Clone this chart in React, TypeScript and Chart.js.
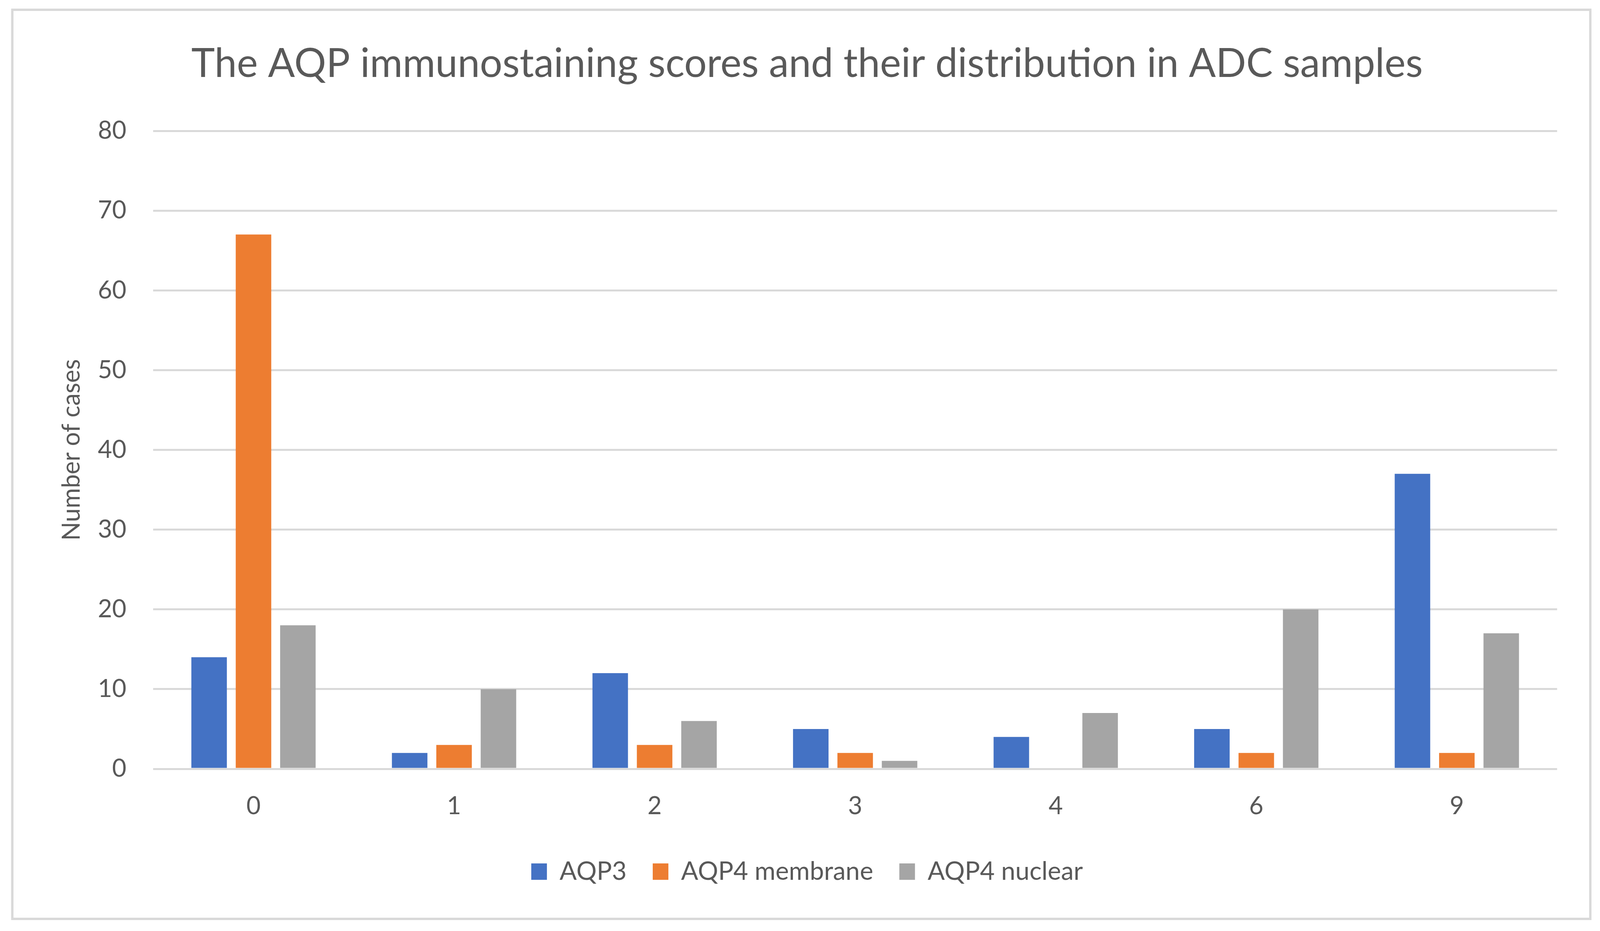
import React, { useEffect, useRef } from "react";
import { Chart, registerables } from "chart.js";

Chart.register(...registerables);

const categories = ["0", "1", "2", "3", "4", "6", "9"];
const aqp3 = [14, 2, 12, 5, 4, 5, 37];
const aqp4Membrane = [67, 3, 3, 2, 0, 2, 2];
const aqp4Nuclear = [18, 10, 6, 1, 7, 20, 17];
const seriesNames = ["AQP3", "AQP4 membrane", "AQP4 nuclear"];
const seriesColors = ["#4472C4", "#ED7D31", "#A5A5A5"];
const titleText = "The AQP immunostaining scores and their distribution in ADC samples";
const yTitle = "Number of cases";
const yMin = 0;
const yMax = 80;
const yStep = 10;

const W = 4292;
const H = 2383;
const FONT = "Lato, 'Open Sans', sans-serif";
const TEXT = "#595959";

export default function App() {
  const ref = useRef<HTMLCanvasElement>(null);
  const vw = (typeof window !== "undefined" && window.innerWidth) || W;
  const vh = (typeof window !== "undefined" && window.innerHeight) || H;
  useEffect(() => {
    document.body.style.margin = "0";
    document.body.style.overflow = "hidden";
    const kx = vw / W;
    const ky = vh / H;
    const X = (v: number) => v * kx;
    const Y = (v: number) => v * ky;

    const titleSize = 102;
    const titleTop = Y(164) - 0.6 * titleSize;
    const titleBottom = Y(335) - titleTop - 1.2 * titleSize;

    const legendFont = 65;
    const legendPad = X(70);
    const legendHeight = legendFont + legendPad + 10;
    const padBottom = Y(2383 - 2231) - legendFont / 2 - 10;
    const legendTop = vh - padBottom - legendHeight;
    const xAxisHeight = legendTop - Y(1968);
    const xFont = 63;

    const framePlugin = {
      id: "frame",
      beforeDraw(chart: any) {
        const ctx = chart.ctx;
        ctx.save();
        ctx.fillStyle = "#ffffff";
        ctx.fillRect(0, 0, chart.width, chart.height);
        ctx.strokeStyle = "#d9d9d9";
        ctx.lineWidth = 6;
        ctx.strokeRect(X(33), Y(25), X(4233), Y(2327));
        ctx.restore();
      },
    };

    const canvas = ref.current!;
    const chart = new Chart(canvas, {
      type: "bar",
      data: {
        labels: categories,
        datasets: [aqp3, aqp4Membrane, aqp4Nuclear].map((d, i) => ({
          label: seriesNames[i],
          data: d,
          backgroundColor: seriesColors[i],
          borderWidth: 0,
          categoryPercentage: 0.664,
          barPercentage: 0.8,
        })),
      },
      options: {
        animation: false,
        responsive: false,
        devicePixelRatio: 1,
        layout: { padding: { left: X(153), right: X(115), top: 0, bottom: padBottom } },
        plugins: {
          title: {
            display: true,
            text: titleText,
            color: TEXT,
            font: { family: FONT, size: titleSize, weight: "normal", lineHeight: 1.2 },
            padding: { top: titleTop, bottom: titleBottom },
          },
          legend: {
            position: "bottom",
            labels: {
              color: TEXT,
              font: { family: FONT, size: legendFont },
              boxWidth: X(42),
              boxHeight: Y(42),
              padding: legendPad,
            },
          },
          tooltip: { enabled: false },
        },
        scales: {
          x: {
            afterFit: (s: any) => {
              s.height = xAxisHeight;
            },
            grid: { display: false, drawTicks: false },
            border: { display: false },
            ticks: {
              color: TEXT,
              font: { family: FONT, size: xFont, lineHeight: 1.2 },
              padding: Y(2064 - 1968) - 0.6 * xFont,
            },
          },
          y: {
            min: yMin,
            max: yMax,
            afterFit: (s: any) => {
              s.width = X(258);
            },
            grid: { color: "#d9d9d9", lineWidth: 5, drawTicks: false },
            border: { display: false },
            ticks: {
              stepSize: yStep,
              color: TEXT,
              font: { family: FONT, size: 63 },
              padding: X(72),
            },
            title: {
              display: true,
              text: yTitle,
              color: TEXT,
              font: { family: FONT, size: 63, lineHeight: 1.2 },
              padding: { top: Math.max(0, X(192 - 153) - 0.6 * 63), bottom: 0 },
            },
          },
        },
      },
      plugins: [framePlugin],
    });
    return () => chart.destroy();
  }, []);
  return <canvas ref={ref} width={vw} height={vh} style={{ width: vw, height: vh, display: "block" }} />;
}
